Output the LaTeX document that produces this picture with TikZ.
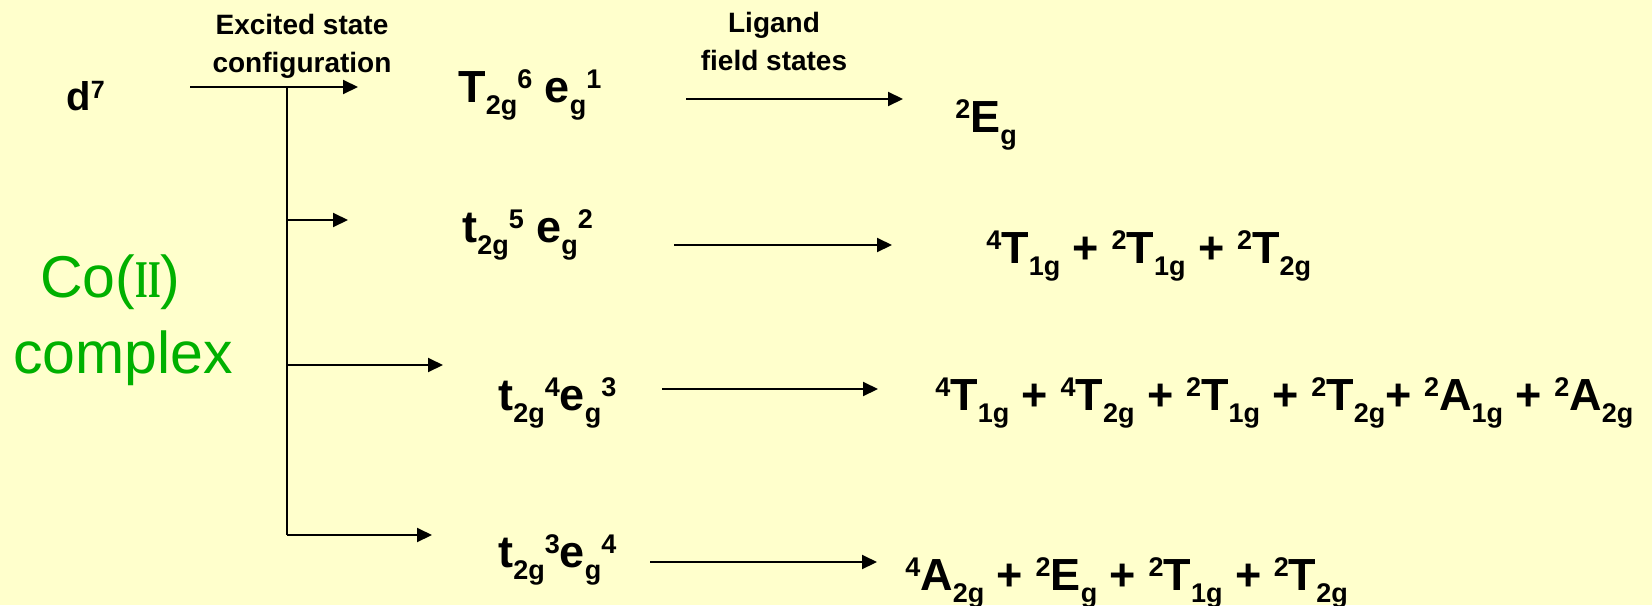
\documentclass[tikz,border=0pt]{standalone}
\usepackage{fontspec}
\setmainfont{Liberation Sans}
\newfontfamily\romfont{Liberation Serif}
\usepackage{graphicx}
\usepackage{xcolor}
\definecolor{PaleYellow}{RGB}{255,255,204}
\definecolor{CoGreen}{RGB}{0,176,0}
\usepackage{tikz}
\usetikzlibrary{arrows.meta}

\newcommand{\hi}[1]{\raisebox{7pt}{\fontsize{13.5}{14}\selectfont #1}}
\newcommand{\lo}[1]{\raisebox{-6pt}{\fontsize{13.5}{14}\selectfont #1}}

\begin{document}
\begin{tikzpicture}[x=0.5pt, y=-0.5pt,
    lbl/.style={font=\fontsize{14}{19}\selectfont\bfseries, align=center, inner sep=0, anchor=north},
    term/.style={font=\fontsize{22.5}{24}\selectfont\bfseries, inner sep=0, anchor=base west},
    big/.style={font=\fontsize{29.5}{30}\selectfont, text=CoGreen, inner sep=0, anchor=base west},
    arr/.style={-{Triangle[length=7.5pt,width=7pt]}, line width=1pt}]
    \useasboundingbox (0,0) rectangle (1652,605);
    \fill[PaleYellow] (0,0) rectangle (1652,605);

    \node[term, font=\fontsize{20}{22}\selectfont\bfseries] (dseven) at (66,110) {d\raisebox{6pt}{\fontsize{12.5}{13}\selectfont 7}};
    \node[big] (coii) at (40,297) {Co(\scalebox{0.55}[0.9]{\romfont\bfseries II})};
    \node[big] (cplx) at (13,373) {complex};

    \node[lbl] (exc) at (302,14) {Excited state\\configuration};
    \node[lbl] (lig) at (774,12) {Ligand\\field states};

    % left branch
    \coordinate (d0) at (190,87);
    \coordinate (d1) at (358,87);
    \coordinate (br) at (287,87);
    \draw[arr] (d0) -- (d1);
    \foreach \n/\y/\xe in {2/220/348, 3/365/443, 4/535/432} {
        \coordinate (b\n) at (287,\y);
        \coordinate (c\n) at (\xe,\y);
        \draw[arr] (b\n) -- (c\n);
    }
    \draw[line width=1pt] (br) -- (b4);

    % right arrows
    \foreach \n/\xs/\xe/\y in {1/686/903/99, 2/674/892/245, 3/662/878/389, 4/650/877/562} {
        \coordinate (s\n) at (\xs,\y);
        \coordinate (e\n) at (\xe,\y);
        \draw[arr] (s\n) -- (e\n);
    }

    \node[term] (cfgA) at (458,102) {T\lo{2g}\hi{6} e\lo{g}\hi{1}};
    \node[term] (cfgB) at (462,242) {t\lo{2g}\hi{5} e\lo{g}\hi{2}};
    \node[term] (cfgC) at (498,410) {t\lo{2g}\hi{4}e\lo{g}\hi{3}};
    \node[term] (cfgD) at (498,567) {t\lo{2g}\hi{3}e\lo{g}\hi{4}};

    \node[term] (stA) at (955,132) {\hi{2}E\lo{g}};
    \node[term] (stB) at (986,263) {\hi{4}T\lo{1g} + \hi{2}T\lo{1g} + \hi{2}T\lo{2g}};
    \node[term] (stC) at (935,410) {\hi{4}T\lo{1g} + \hi{4}T\lo{2g} + \hi{2}T\lo{1g} + \hi{2}T\lo{2g}+ \hi{2}A\lo{1g} + \hi{2}A\lo{2g}};
    \node[term] (stD) at (905,590) {\hi{4}A\lo{2g} + \hi{2}E\lo{g} + \hi{2}T\lo{1g} + \hi{2}T\lo{2g}};
\end{tikzpicture}
\end{document}
